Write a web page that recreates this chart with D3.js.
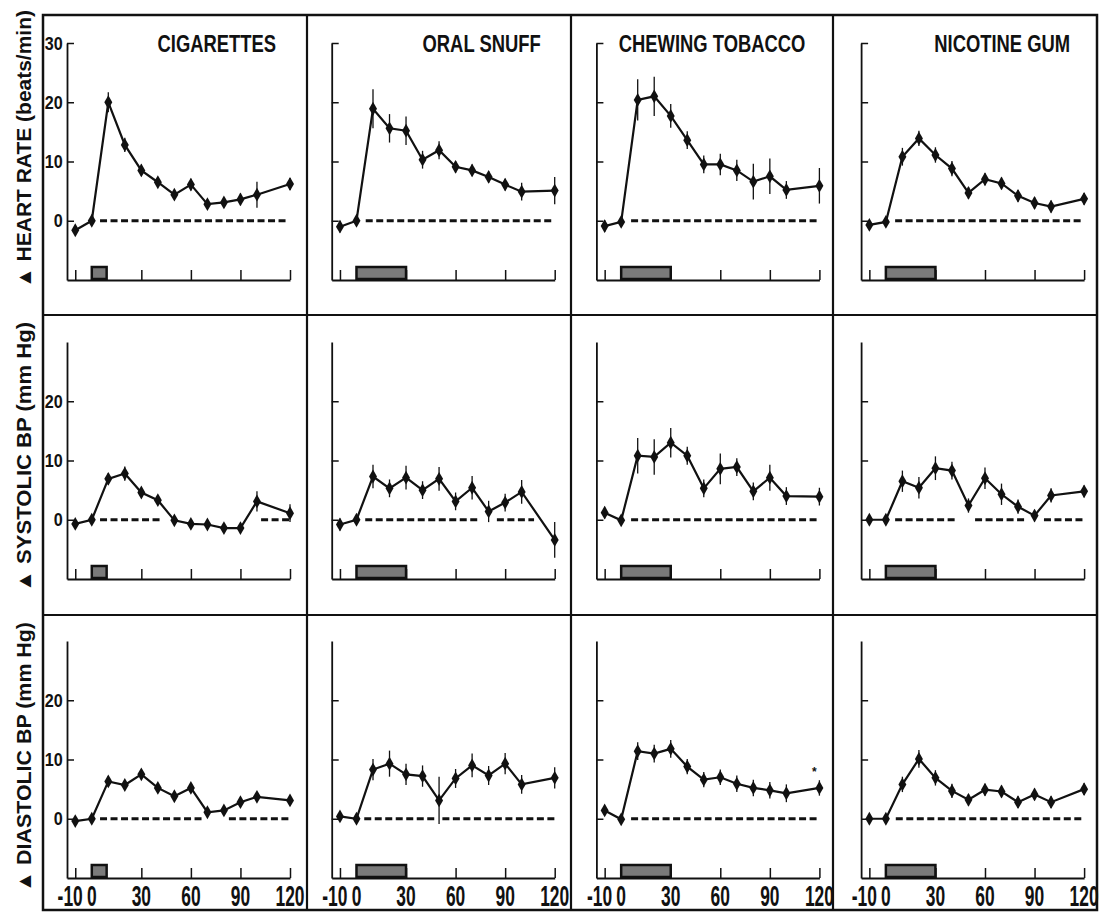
<!DOCTYPE html>
<html>
<head>
<meta charset="utf-8">
<script src="https://cdn.jsdelivr.net/npm/d3@7"></script>
<style>
  body { margin: 0; background: #fff; }
  svg { display: block; font-family: "Liberation Sans", Arial, sans-serif; font-weight: bold; }
</style>
</head>
<body>
<svg id="chart" width="1100" height="913"></svg>
<script>
// minutes after start of nicotine exposure
const times = [-10, 0, 10, 20, 30, 40, 50, 60, 70, 80, 90, 100, 120];

const products = ["CIGARETTES", "ORAL SNUFF", "CHEWING TOBACCO", "NICOTINE GUM"];
const measures = ["HEART RATE (beats/min)", "SYSTOLIC BP (mm Hg)", "DIASTOLIC BP (mm Hg)"];

// exposure period (min) for each product
const exposure = [[0, 9], [0, 30], [0, 30], [0, 30]];

const yTicksByRow = [[0, 10, 20, 30], [0, 10, 20], [0, 10, 20]];
const xTicks = [-10, 30, 60, 90, 120];
const xTickLabels = [-10, 0, 30, 60, 90, 120];

// heart rate change, beats/min
const hrCig   = [-1.6, 0, 20, 12.8, 8.5, 6.5, 4.4, 6.1, 2.8, 3.1, 3.6, 4.4, 6.2];
const hrSnuff = [-1, 0, 18.9, 15.6, 15.2, 10.3, 11.9, 9.1, 8.5, 7.4, 6.1, 4.9, 5.1];
const hrChew  = [-0.9, -0.2, 20.4, 21, 17.7, 13.6, 9.5, 9.5, 8.5, 6.6, 7.5, 5.2, 5.9];
const hrGum   = [-0.7, -0.2, 10.8, 13.9, 11.1, 8.8, 4.7, 7, 6.3, 4.2, 3, 2.4, 3.7];
const hrCigErr   = [0.8, 0.5, 1.7, 1.2, 1, 0.8, 0.8, 1, 0.8, 0.8, 1, 2.2, 1];
const hrSnuffErr = [1, 0.8, 3.3, 2.4, 2.4, 1.5, 1.5, 1, 1, 1, 1, 1.5, 2.3];
const hrChewErr  = [1, 0.8, 3.5, 3.3, 2, 1.5, 1.5, 1.8, 1.8, 3, 3, 1.5, 3];
const hrGumErr   = [0.6, 0.6, 1.5, 1.3, 1.3, 1.3, 1, 1, 1, 1, 1, 1, 1];

// systolic BP change, mm Hg
const sysCig   = [-0.7, 0, 6.9, 7.8, 4.6, 3.3, -0.1, -0.7, -0.8, -1.4, -1.4, 3.1, 1.1];
const sysSnuff = [-0.8, 0, 7.3, 5.3, 7.1, 5, 6.9, 3.1, 5.4, 1.4, 2.9, 4.7, -3.4];
const sysChew  = [1.2, -0.1, 10.8, 10.6, 13, 10.8, 5.3, 8.6, 8.9, 4.8, 7.1, 4, 3.9];
const sysGum   = [0, 0, 6.5, 5.4, 8.7, 8.3, 2.4, 7, 4.3, 2.2, 0.7, 4.1, 4.8];
const sysCigErr   = [0.6, 0.5, 1, 1.2, 0.8, 0.8, 0.6, 0.6, 0.6, 0.6, 0.6, 1.7, 1.5];
const sysSnuffErr = [1, 0.6, 2, 1.5, 2, 1.5, 2, 1.5, 2, 1.8, 1.5, 2, 3];
const sysChewErr  = [1, 0.8, 3, 3, 2.5, 1.5, 1.5, 2.6, 1.5, 1.5, 2.2, 1.5, 1.5];
const sysGumErr   = [0.6, 0.6, 1.8, 1.8, 2, 1.5, 1.2, 1.8, 1.8, 1.2, 1, 1.2, 1];

// diastolic BP change, mm Hg
const diaCig   = [-0.4, 0, 6.3, 5.7, 7.5, 5.2, 3.8, 5.2, 1.1, 1.4, 2.8, 3.7, 3.1];
const diaSnuff = [0.4, 0, 8.3, 9.3, 7.5, 7.2, 3.1, 6.8, 9, 7.3, 9.3, 5.8, 6.9];
const diaChew  = [1.4, -0.1, 11.4, 11, 11.8, 8.8, 6.6, 7, 5.9, 5.2, 4.8, 4.3, 5.2];
const diaGum   = [0, 0, 5.8, 10.1, 6.9, 4.7, 3.2, 4.9, 4.6, 2.8, 4.1, 2.8, 5];
const diaCigErr   = [0.5, 0.4, 0.9, 0.8, 0.8, 0.8, 0.8, 0.8, 0.6, 0.6, 0.8, 0.8, 0.8];
const diaSnuffErr = [0.8, 0.6, 1.8, 2.2, 1.8, 1.8, 4, 1.6, 2, 1.6, 1.8, 1.6, 1.8];
const diaChewErr  = [0.8, 0.6, 1.5, 1.5, 1.5, 1.3, 1.3, 1.3, 1.4, 1.4, 1.4, 1.5, 1.3];
const diaGumErr   = [0.6, 0.6, 1.3, 1.5, 1.3, 1.2, 1, 1, 1, 1, 1, 1, 1];

// dashed zero line segments (min) as drawn in each panel
const baseHr  = [[[5, 118]], [[5.6, 120]], [[6, 120]], [[5.6, 119]]];
const baseSys = [[[5, 42], [102.5, 120]], [[5.3, 75], [85, 107.5]], [[6, 120]], [[5.6, 43], [54, 84.5], [95.7, 120]]];
const baseDia = [[[5, 67], [83, 119.5]], [[4.7, 48], [52, 120]], [[6, 120]], [[6, 120]]];

const means = [
  [hrCig, hrSnuff, hrChew, hrGum],
  [sysCig, sysSnuff, sysChew, sysGum],
  [diaCig, diaSnuff, diaChew, diaGum]
];
const errs = [
  [hrCigErr, hrSnuffErr, hrChewErr, hrGumErr],
  [sysCigErr, sysSnuffErr, sysChewErr, sysGumErr],
  [diaCigErr, diaSnuffErr, diaChewErr, diaGumErr]
];
const baselines = [baseHr, baseSys, baseDia];

const ink = "#111";
const W = 223, H = 237;
const svg = d3.select("#chart");

// outer frame and grid
svg.append("rect").attr("x", 43).attr("y", 15).attr("width", 1054).attr("height", 895)
  .attr("fill", "none").attr("stroke", ink).attr("stroke-width", 2.5);
[307, 571, 833].forEach(xx => svg.append("line").attr("x1", xx).attr("x2", xx)
  .attr("y1", 15).attr("y2", 910).attr("stroke", ink).attr("stroke-width", 2.2));
[315, 615].forEach(yy => svg.append("line").attr("x1", 43).attr("x2", 1097)
  .attr("y1", yy).attr("y2", yy).attr("stroke", ink).attr("stroke-width", 2.2));

// row labels
const labelCenters = [149, 457, 757];
const labelLengths = [278, 270, 270];
measures.forEach((m, r) => {
  svg.append("text")
    .attr("transform", `translate(24,${labelCenters[r]}) rotate(-90)`)
    .attr("text-anchor", "middle").attr("dominant-baseline", "central")
    .attr("font-size", 20).attr("fill", ink)
    .attr("textLength", labelLengths[r]).attr("lengthAdjust", "spacingAndGlyphs")
    .text("\u25B2 " + m);
});

const line = d3.line();

means.forEach((rowMeans, r) => {
  rowMeans.forEach((vals, c) => {
    const g = svg.append("g").attr("transform", `translate(${67 + c * 264.7},${43 + r * 299})`);
    const x = d3.scaleLinear([-15, 120], [0, W]);
    const y = d3.scaleLinear([-10, 30], [H, 0]);

    const ya = d3.axisLeft(y).tickValues(yTicksByRow[r])
      .tickSizeInner(-7).tickSizeOuter(0).tickPadding(5);
    if (c > 0) ya.tickFormat("");
    const yg = g.append("g").call(ya);
    yg.select(".domain").attr("stroke", ink).attr("stroke-width", 1.8);
    yg.selectAll(".tick line").attr("stroke", ink).attr("stroke-width", 1.5);
    yg.selectAll(".tick text").attr("font-size", 19).attr("font-family", null)
      .attr("fill", ink).attr("transform", "scale(0.85,1)");

    const xa = d3.axisBottom(x).tickValues(xTicks).tickSizeInner(-10).tickSizeOuter(0).tickFormat("");
    const xg = g.append("g").attr("transform", `translate(0,${H})`).call(xa);
    xg.select(".domain").attr("stroke", ink).attr("stroke-width", 2);
    xg.selectAll(".tick line").attr("stroke", ink).attr("stroke-width", 1.5);

    // exposure bar
    const [e0, e1] = exposure[c];
    g.append("rect").attr("x", x(e0)).attr("y", H - 13)
      .attr("width", x(e1) - x(e0)).attr("height", 12)
      .attr("fill", "#7a7a7a").attr("stroke", ink).attr("stroke-width", 2.5);

    // dashed zero reference
    baselines[r][c].forEach(([a, b]) => {
      g.append("line").attr("x1", x(a)).attr("x2", x(b))
        .attr("y1", y(0)).attr("y2", y(0))
        .attr("stroke", ink).attr("stroke-width", 3).attr("stroke-dasharray", "7,3.5");
    });

    const pts = times.map((t, i) => ({ t, v: vals[i], e: errs[r][c][i] }));

    g.selectAll(".err").data(pts).join("line").attr("class", "err")
      .attr("x1", d => x(d.t)).attr("x2", d => x(d.t))
      .attr("y1", d => y(d.v - d.e)).attr("y2", d => y(d.v + d.e))
      .attr("stroke", ink).attr("stroke-width", 1.3);

    g.append("path").attr("d", line(pts.map(d => [x(d.t), y(d.v)])))
      .attr("fill", "none").attr("stroke", ink).attr("stroke-width", 2.2);

    g.selectAll(".pt").data(pts).join("path").attr("class", "pt")
      .attr("transform", d => `translate(${x(d.t)},${y(d.v)})`)
      .attr("d", d3.symbol(d3.symbolDiamond, 55))
      .attr("fill", ink);

    if (r === 0) {
      g.append("text")
        .attr("transform", `translate(${x(120) - 14},9) scale(0.8,1)`)
        .attr("text-anchor", "end").attr("font-size", 23).attr("fill", ink)
        .text(products[c]);
    }

    if (r === 2) {
      g.selectAll(".xl").data(xTickLabels).join("text").attr("class", "xl")
        .attr("transform", d => `translate(${d === -10 ? x(d) + 7.5 : x(d)},${H + 28}) scale(0.6,1)`)
        .attr("text-anchor", d => d === -10 ? "end" : "middle")
        .attr("font-size", 29).attr("fill", ink)
        .text(d => d);
      if (c === 2) {
        g.append("text").attr("x", x(117)).attr("y", y(7.2))
          .attr("text-anchor", "middle").attr("font-size", 12).attr("fill", ink).text("*");
      }
    }
  });
});
</script>
</body>
</html>
